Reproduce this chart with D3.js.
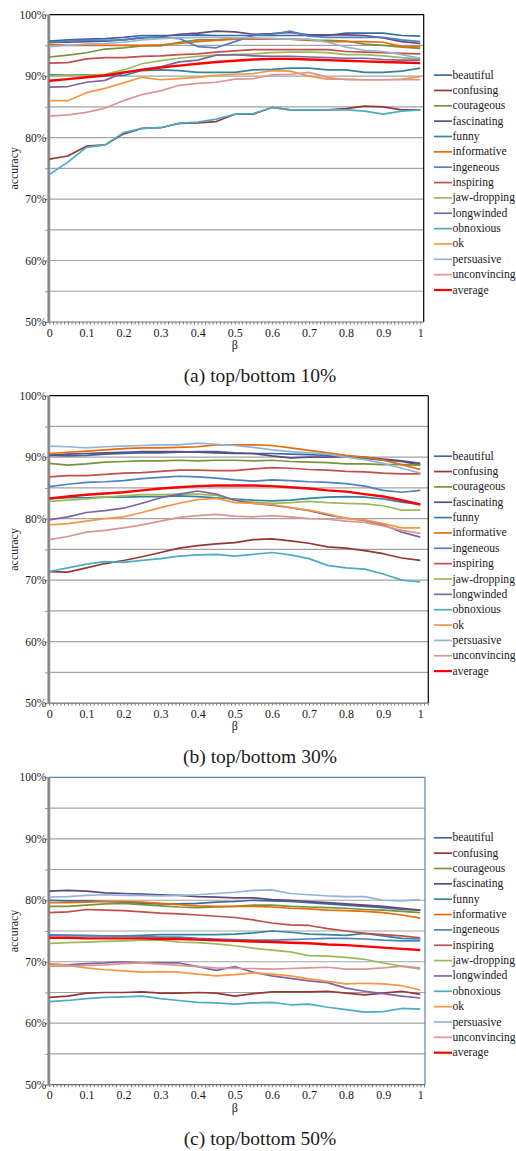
<!DOCTYPE html>
<html>
<head>
<meta charset="utf-8">
<script src="https://cdn.jsdelivr.net/npm/d3@7"></script>
<style>
  body { margin: 0; background: #fff; }
  svg { display: block; }
</style>
</head>
<body>
<svg width="516" height="1151"></svg>
<script>
// beta values on the x axis
const betas = [0, 0.05, 0.1, 0.15, 0.2, 0.25, 0.3, 0.35, 0.4, 0.45, 0.5,
               0.55, 0.6, 0.65, 0.7, 0.75, 0.8, 0.85, 0.9, 0.95, 1];

const seriesNames = ['beautiful', 'confusing', 'courageous', 'fascinating', 'funny',
  'informative', 'ingeneous', 'inspiring', 'jaw-dropping', 'longwinded',
  'obnoxious', 'ok', 'persuasive', 'unconvincing', 'average'];

const seriesColors = ['#3d69a3', '#953735', '#77933c', '#604a7b', '#31859c',
  '#e46c0a', '#4f81bd', '#c0504d', '#9bbb59', '#8064a2',
  '#4bacc6', '#f79646', '#95b3d7', '#d99694', '#ff0000'];

const yLabels = [50, 60, 70, 80, 90, 100];
const gridLevels = [55, 60, 65, 70, 75, 80, 85, 90, 95];
const xLabels = [0, 0.1, 0.2, 0.3, 0.4, 0.5, 0.6, 0.7, 0.8, 0.9, 1];

// accuracy (%) per series, same order as seriesNames
const top10 = [
  [95.7,95.9,96.0,96.1,96.3,96.6,96.6,96.6,96.7,96.6,96.6,96.6,96.6,96.6,96.6,96.6,97.0,97.0,97.0,96.6,96.5], // beautiful
  [76.5,77.0,78.6,78.8,80.6,81.5,81.6,82.3,82.4,82.6,83.8,83.8,84.9,84.5,84.5,84.5,84.7,85.1,85.0,84.5,84.5], // confusing
  [93.1,93.4,93.8,94.4,94.6,94.9,94.9,95.5,95.9,95.9,96.1,96.1,96.1,96.0,95.8,95.8,95.7,95.2,95.0,94.7,94.5], // courageous
  [95.5,95.5,95.6,95.7,95.9,96.2,96.4,96.8,97.0,97.3,97.2,96.8,96.9,97.1,96.7,96.7,96.7,96.6,96.2,95.6,95.3], // fascinating
  [90.2,90.2,90.2,90.1,90.1,90.9,91.0,90.9,90.6,90.6,90.6,91.0,91.1,91.3,91.3,91.0,91.0,90.6,90.6,90.8,91.3], // funny
  [95.2,95.0,95.0,95.0,95.0,95.0,95.1,95.3,95.6,95.8,96.0,96.0,96.0,96.0,95.9,95.6,95.6,95.6,95.5,94.8,94.8], // informative
  [95.5,95.7,95.8,95.8,95.9,96.3,96.3,96.1,94.8,94.6,95.6,96.6,96.8,97.3,96.5,96.3,96.3,96.3,96.3,95.9,95.6], // ingeneous
  [92.1,92.2,92.8,93.0,93.0,93.2,93.3,93.5,93.6,93.9,94.1,94.3,94.3,94.3,94.3,94.3,94.0,93.9,93.8,93.7,93.6], // inspiring
  [90.0,90.2,90.1,90.3,91.0,92.0,92.5,92.9,93.2,93.4,93.5,93.6,93.8,93.9,93.9,93.8,93.5,93.5,93.3,93.0,92.8], // jaw-dropping
  [88.2,88.3,89.0,89.3,90.5,91.1,91.5,92.3,92.6,93.4,93.5,93.3,93.2,93.2,93.1,93.0,92.9,92.9,92.7,92.6,92.6], // longwinded
  [74.0,76.0,78.4,78.8,80.8,81.5,81.6,82.3,82.5,83.0,83.8,83.9,84.9,84.5,84.5,84.5,84.5,84.3,83.8,84.3,84.5], // obnoxious
  [86.0,86.0,87.3,88.0,88.9,89.8,89.4,89.6,89.8,90.1,90.3,90.4,90.9,90.8,90.0,89.5,89.5,89.4,89.4,89.5,89.9], // ok
  [94.8,95.0,95.2,95.3,95.5,95.9,96.1,96.2,96.3,96.3,96.2,96.2,96.1,96.0,96.0,95.5,94.7,94.2,94.0,93.5,92.9], // persuasive
  [83.5,83.7,84.1,84.8,86.0,87.0,87.6,88.5,88.8,89.0,89.5,89.6,90.2,90.3,90.6,89.8,89.4,89.4,89.4,89.4,89.4], // unconvincing
  [89.25,89.5,89.8,90.1,90.6,91.0,91.4,91.7,92.0,92.3,92.5,92.7,92.8,92.8,92.7,92.6,92.5,92.4,92.3,92.2,92.1] // average
];

const top30 = [
  [90.3,90.2,90.3,90.5,90.6,90.7,90.7,90.8,90.9,90.9,90.7,90.6,90.6,90.5,90.4,90.3,90.1,89.8,89.5,89.3,88.7], // beautiful
  [71.4,71.3,72.0,72.7,73.2,73.8,74.5,75.2,75.6,75.9,76.1,76.6,76.7,76.4,76.0,75.4,75.2,74.8,74.3,73.6,73.2], // confusing
  [89.0,88.7,88.9,89.2,89.3,89.4,89.4,89.5,89.4,89.5,89.5,89.4,89.5,89.3,89.2,89.1,88.9,88.9,88.8,88.8,88.7], // courageous
  [90.3,90.5,90.6,90.7,90.8,90.9,90.9,90.9,90.8,90.7,90.6,90.6,90.2,89.9,90.0,90.0,90.1,90.0,89.7,89.4,89.0], // fascinating
  [83.2,83.4,83.4,83.5,83.5,83.6,83.6,83.7,83.6,83.4,83.2,83.0,82.9,83.0,83.3,83.5,83.6,83.5,83.2,82.7,82.3], // funny
  [90.6,90.8,91.0,91.2,91.4,91.5,91.5,91.6,91.7,92.0,92.0,92.0,91.9,91.5,91.1,90.7,90.3,90.0,89.5,88.8,88.0], // informative
  [85.2,85.6,85.9,86.0,86.2,86.5,86.7,86.9,86.8,86.6,86.3,86.1,86.3,86.2,86.0,85.9,85.7,85.3,84.6,84.3,84.6], // ingeneous
  [86.8,87.0,87.0,87.2,87.4,87.5,87.7,87.9,87.9,87.8,87.8,88.1,88.3,88.2,88.0,87.9,87.7,87.6,87.4,87.3,87.3], // inspiring
  [82.8,83.0,83.2,83.5,83.7,83.9,83.9,84.0,84.0,83.8,83.0,82.7,82.5,82.6,82.8,82.6,82.5,82.4,82.1,81.4,81.4], // jaw-dropping
  [79.8,80.3,81.0,81.3,81.7,82.5,83.4,84.0,84.5,84.0,83.0,82.5,82.2,81.8,81.3,80.6,80.1,79.7,79.0,77.8,77.0], // longwinded
  [71.4,72.0,72.6,73.0,72.9,73.2,73.5,73.9,74.1,74.2,73.9,74.2,74.5,74.1,73.5,72.4,72.0,71.8,71.0,70.0,69.7], // obnoxious
  [79.0,79.2,79.6,80.0,80.3,81.0,81.8,82.5,83.1,83.3,82.6,82.5,82.3,81.8,81.4,80.8,80.0,79.8,79.2,78.5,78.5], // ok
  [91.8,91.7,91.5,91.7,91.8,91.9,92.0,92.0,92.3,92.1,91.9,91.6,91.2,90.9,90.7,90.5,90.0,89.6,89.0,88.2,87.4], // persuasive
  [76.6,77.1,77.8,78.1,78.5,79.0,79.6,80.2,80.5,80.7,80.4,80.3,80.5,80.3,80.0,79.9,79.6,79.4,78.8,78.1,77.6], // unconvincing
  [83.3,83.6,83.9,84.1,84.3,84.6,84.9,85.1,85.3,85.4,85.4,85.4,85.3,85.1,84.9,84.6,84.4,84.0,83.6,83.0,82.3]  // average
];

const top50 = [
  [80.0,79.9,79.9,79.8,79.7,79.5,79.4,79.4,79.5,79.7,79.8,80.0,79.9,79.8,79.6,79.4,79.2,79.0,78.8,78.5,78.4], // beautiful
  [64.2,64.4,64.9,65.0,65.0,65.1,64.9,64.9,65.0,64.9,64.4,64.8,65.1,65.1,65.1,65.2,64.9,64.6,64.9,65.2,64.7], // confusing
  [79.0,79.0,79.2,79.4,79.5,79.3,79.1,78.9,78.8,78.9,79.0,79.2,79.2,79.0,78.9,78.8,78.7,78.5,78.4,78.2,78.0], // courageous
  [81.5,81.6,81.5,81.2,81.1,81.0,80.9,80.8,80.6,80.5,80.4,80.4,80.1,80.0,79.8,79.6,79.4,79.2,79.0,78.7,78.4], // fascinating
  [74.3,74.3,74.2,74.2,74.2,74.3,74.4,74.4,74.4,74.4,74.5,74.7,75.0,74.8,74.5,74.4,74.3,74.6,74.2,73.8,73.7], // funny
  [79.6,79.6,79.7,79.8,79.8,79.7,79.5,79.3,79.1,79.0,79.0,79.0,78.9,78.7,78.6,78.4,78.3,78.2,78.0,77.6,77.1], // informative
  [74.4,74.3,74.3,74.2,74.2,74.1,74.0,74.0,73.8,73.7,73.6,73.5,73.5,73.6,73.7,73.8,73.8,73.7,73.5,73.4,73.4], // ingeneous
  [78.0,78.1,78.5,78.4,78.3,78.1,77.9,77.8,77.6,77.4,77.2,76.8,76.3,76.0,75.9,75.4,75.0,74.6,74.4,74.2,73.9], // inspiring
  [73.0,73.1,73.2,73.3,73.4,73.5,73.5,73.2,73.1,72.9,72.6,72.2,71.9,71.6,71.0,70.9,70.7,70.4,69.8,69.3,68.8], // jaw-dropping
  [69.6,69.5,69.7,69.8,70.0,69.8,69.8,69.8,69.2,68.6,69.2,68.3,67.7,67.3,66.9,66.6,65.7,65.2,64.8,64.4,64.1], // longwinded
  [63.5,63.7,64.0,64.2,64.3,64.4,64.0,63.7,63.4,63.3,63.1,63.3,63.4,63.0,63.1,62.6,62.2,61.8,61.9,62.4,62.3], // obnoxious
  [69.7,69.4,69.0,68.7,68.5,68.3,68.4,68.3,68.0,67.7,67.9,68.2,68.0,67.7,67.2,66.8,66.4,66.5,66.4,66.1,65.4], // ok
  [80.5,80.6,80.8,80.9,80.8,80.8,80.7,80.8,80.9,81.1,81.3,81.6,81.7,81.1,80.9,80.7,80.6,80.6,80.0,79.9,80.1], // persuasive
  [69.3,69.3,69.4,69.5,69.7,69.8,69.6,69.4,69.2,69.0,68.9,68.9,68.8,68.9,69.0,69.1,68.8,68.8,69.0,69.3,69.0], // unconvincing
  [73.9,73.9,73.8,73.8,73.8,73.8,73.7,73.7,73.6,73.5,73.4,73.3,73.2,73.1,73.0,72.8,72.7,72.5,72.3,72.1,71.9]  // average
];

const panels = [
  { caption: '(a) top/bottom 10%', values: top10, top: 14.6, right: 423.7, frame: '#000' },
  { caption: '(b) top/bottom 30%', values: top30, top: 395.7, right: 428.3, frame: '#000' },
  { caption: '(c) top/bottom 50%', values: top50, top: 777.3, right: 425, frame: '#5b80b2' }
];

const serif = "'Liberation Serif', 'Times New Roman', Times, 'DejaVu Serif', serif";
const ink = '#1a1a1a';

const svg = d3.select('svg');

const plotLeft = 49.3;
const plotOne = 420.3;   // pixel of beta = 1
const plotH = 307.4;

panels.forEach(p => {
  const g = svg.append('g').attr('font-family', serif);
  const bottom = p.top + plotH;

  const x = d3.scaleLinear().domain([0, 1]).range([plotLeft, plotOne]);
  const y = d3.scaleLinear().domain([50, 100]).range([bottom, p.top]);

  // gridlines
  g.selectAll('.grid').data(gridLevels).join('line')
    .attr('x1', plotLeft).attr('x2', p.right)
    .attr('y1', d => y(d)).attr('y2', d => y(d))
    .attr('stroke', '#a3a3a3').attr('stroke-width', 1.2);

  // frame top / right
  g.append('line')
    .attr('x1', plotLeft).attr('x2', p.right)
    .attr('y1', y(100)).attr('y2', y(100))
    .attr('stroke', p.frame).attr('stroke-width', 1.2);
  g.append('line')
    .attr('x1', p.right).attr('x2', p.right)
    .attr('y1', y(100)).attr('y2', bottom)
    .attr('stroke', p.frame).attr('stroke-width', 1.2);

  // x axis with small ticks every 0.01
  const xMax = x.invert(p.right);
  const minor = d3.range(0, xMax, 0.01);
  g.append('g')
    .attr('transform', `translate(0,${bottom})`)
    .call(d3.axisBottom(x).tickValues(minor).tickSize(2.5).tickFormat(''))
    .call(a => a.select('.domain').remove())
    .call(a => a.selectAll('line').attr('stroke', '#777'));
  g.append('line')
    .attr('x1', plotLeft).attr('x2', p.right)
    .attr('y1', bottom).attr('y2', bottom)
    .attr('stroke', '#6e6e6e').attr('stroke-width', 1.2);
  g.append('g')
    .attr('transform', `translate(0,${bottom})`)
    .call(d3.axisBottom(x).tickValues(xLabels).tickSize(0).tickPadding(6)
      .tickFormat(d => d === 0 || d === 1 ? d3.format('d')(d) : d3.format('.1f')(d)))
    .call(a => a.select('.domain').remove())
    .attr('font-family', serif).attr('font-size', 12)
    .call(a => a.selectAll('text').attr('fill', ink));

  // y axis
  g.append('g')
    .attr('transform', `translate(${plotLeft - 1},0)`)
    .call(d3.axisLeft(y).tickValues(gridLevels.concat([50, 100])).tickSize(3).tickFormat(''))
    .call(a => a.select('.domain').remove())
    .call(a => a.selectAll('line').attr('stroke', '#888'));
  g.append('g')
    .attr('transform', `translate(${plotLeft - 1},0)`)
    .call(d3.axisLeft(y).tickValues(yLabels).tickSize(0).tickPadding(2).tickFormat(d => d + '%'))
    .call(a => a.select('.domain').remove())
    .attr('font-family', serif).attr('font-size', 11.5)
    .call(a => a.selectAll('text').attr('fill', ink));
  g.append('line')
    .attr('x1', plotLeft - 0.5).attr('x2', plotLeft - 0.5)
    .attr('y1', y(100)).attr('y2', bottom + 1)
    .attr('stroke', '#9a9a9a').attr('stroke-width', 3);
  g.append('line')
    .attr('x1', plotLeft - 0.5).attr('x2', plotLeft - 0.5)
    .attr('y1', y(100)).attr('y2', bottom + 1)
    .attr('stroke', '#777').attr('stroke-width', 0.8);

  // series
  const line = d3.line().x((d, i) => x(betas[i])).y(d => y(d));
  g.selectAll('.series').data(p.values).join('path')
    .attr('fill', 'none')
    .attr('stroke', (d, i) => seriesColors[i])
    .attr('stroke-width', (d, i) => seriesNames[i] === 'average' ? 2.4 : 1.7)
    .attr('stroke-linejoin', 'round')
    .attr('d', line);

  // axis titles
  g.append('text')
    .attr('transform', `translate(14,${(p.top + bottom) / 2}) rotate(-90)`)
    .attr('text-anchor', 'middle').attr('dominant-baseline', 'central')
    .attr('font-size', 12).attr('fill', ink).text('accuracy');
  g.append('text')
    .attr('x', x(0.5)).attr('y', bottom + 27)
    .attr('text-anchor', 'middle').attr('font-size', 12).attr('fill', ink).text('β');

  // caption
  g.append('text')
    .attr('x', 260).attr('y', bottom + 60)
    .attr('text-anchor', 'middle').attr('font-size', 19.5).attr('fill', ink).text(p.caption);

  // legend
  const leg = g.append('g').attr('transform', `translate(434,${p.top + 60.5})`);
  const items = leg.selectAll('g').data(seriesNames).join('g')
    .attr('transform', (d, i) => `translate(0,${i * 15.35})`);
  items.append('line')
    .attr('x1', 0).attr('x2', 18)
    .attr('stroke', (d, i) => seriesColors[i])
    .attr('stroke-width', d => d === 'average' ? 2.2 : 1.7);
  items.append('text')
    .attr('x', 18.5).attr('dominant-baseline', 'central')
    .attr('font-size', 11.6).attr('fill', ink).text(d => d);
});
</script>
</body>
</html>
